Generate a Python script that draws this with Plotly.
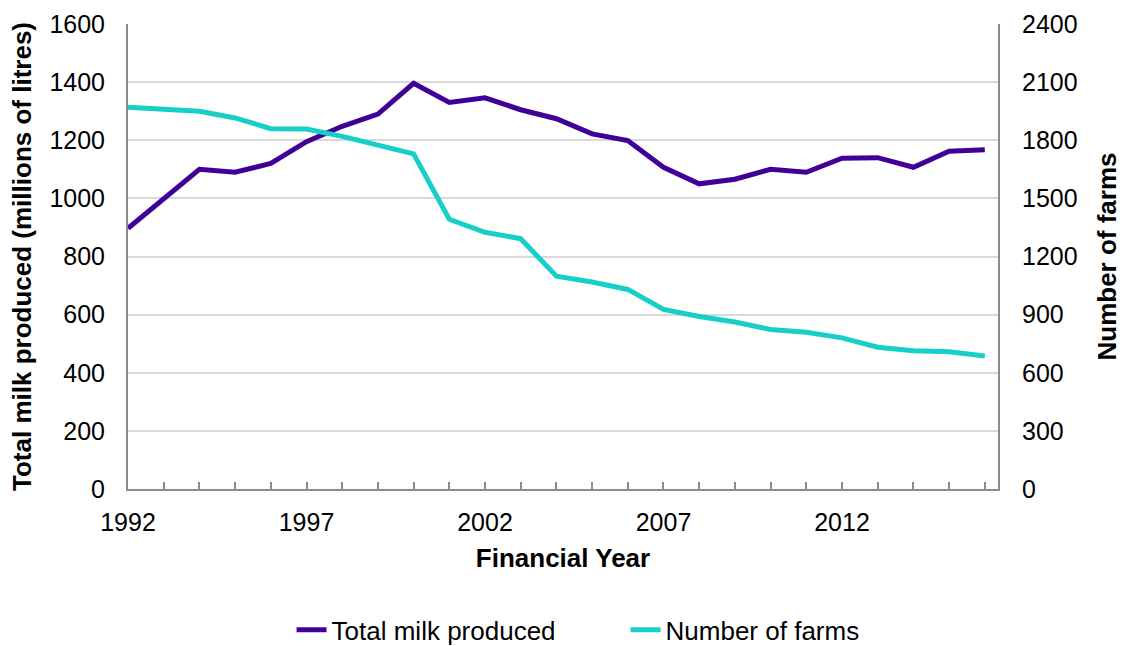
import plotly.graph_objects as go

# Financial years and the two annual series
years = list(range(1992, 2017))
milk_million_litres = [897, 1000, 1100, 1090, 1120, 1195, 1248, 1290, 1396, 1330,
                       1346, 1305, 1274, 1222, 1199, 1107, 1050, 1066, 1100, 1090,
                       1138, 1140, 1107, 1162, 1167]
farm_count = [1970, 1962, 1950, 1915, 1860, 1858, 1820, 1775, 1730, 1392,
              1325, 1292, 1098, 1068, 1030, 927, 890, 862, 823, 809,
              780, 732, 714, 708, 686]

series_names = ["Total milk produced", "Number of farms"]
x_title = "Financial Year"
y_left_title = "Total milk produced (millions of litres)"
y_right_title = "Number of farms"

FONT = "Liberation Sans, Arial, sans-serif"
PURPLE = "#400098"
CYAN = "#16CFC8"
AXIS_GREY = "#8C8C8C"
GRID_GREY = "#D9D9D9"

fig = go.Figure()
fig.add_trace(go.Scatter(
    x=years, y=milk_million_litres, name=series_names[0], mode="lines",
    line=dict(color=PURPLE, width=5), yaxis="y"))
fig.add_trace(go.Scatter(
    x=years, y=farm_count, name=series_names[1], mode="lines",
    line=dict(color=CYAN, width=5), yaxis="y2"))

fig.update_layout(
    width=1123, height=646,
    margin=dict(l=128, r=125, t=24, b=157, autoexpand=False),
    paper_bgcolor="white", plot_bgcolor="white",
    font=dict(family=FONT, size=25, color="black"),
    showlegend=True,
    legend=dict(
        orientation="h", x=0.188, xanchor="left", y=-0.303, yanchor="middle",
        font=dict(family=FONT, size=26, color="black"),
        entrywidth=289, entrywidthmode="pixels",
        bgcolor="rgba(0,0,0,0)",
    ),
    xaxis=dict(
        range=[1992, 2016.37], tick0=1992, dtick=5,
        ticks="inside", ticklen=7, tickwidth=1.5, tickcolor=AXIS_GREY,
        minor=dict(dtick=1, tick0=1992, ticks="inside", ticklen=7,
                   tickwidth=1.5, tickcolor=AXIS_GREY, showgrid=False),
        showline=True, linecolor=AXIS_GREY, linewidth=2,
        showgrid=False, zeroline=False,
        ticklabelstandoff=10,
        tickfont=dict(family=FONT, size=25),
        title=dict(text=x_title, standoff=14,
                   font=dict(family=FONT, size=26, weight="bold")),
    ),
    yaxis=dict(
        range=[0, 1600], dtick=200,
        showline=True, linecolor=AXIS_GREY, linewidth=2,
        showgrid=True, gridcolor=GRID_GREY, gridwidth=1.5,
        zeroline=False, ticks="",
        ticklabelstandoff=16,
        tickfont=dict(family=FONT, size=25),
        title=dict(text=y_left_title, standoff=10,
                   font=dict(family=FONT, size=26, weight="bold")),
    ),
    yaxis2=dict(
        range=[0, 2400], dtick=300, overlaying="y", side="right",
        showline=True, linecolor=AXIS_GREY, linewidth=2,
        showgrid=False, zeroline=False, ticks="",
        ticklabelstandoff=17,
        tickfont=dict(family=FONT, size=25),
        title=dict(text=y_right_title, standoff=21,
                   font=dict(family=FONT, size=26, weight="bold")),
    ),
)

fig.write_html("out.html")
